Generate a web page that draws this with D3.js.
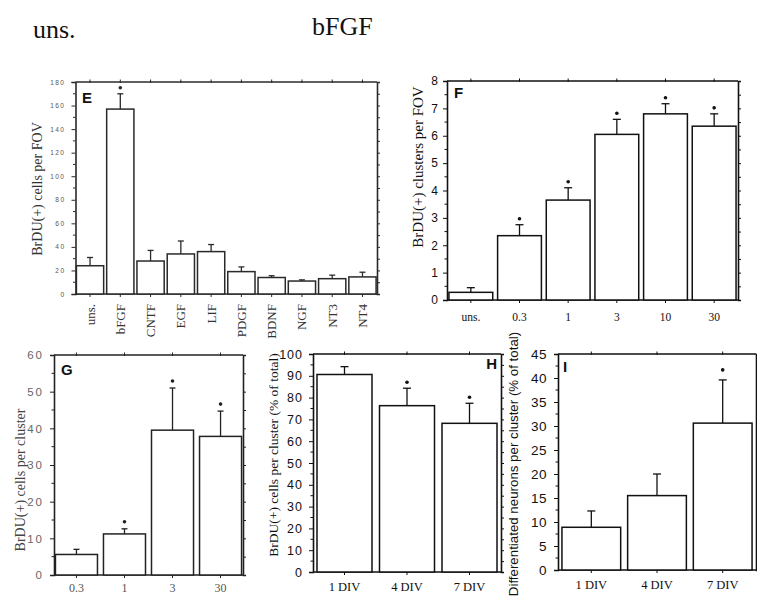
<!DOCTYPE html>
<html>
<head>
<meta charset="utf-8">
<script src="https://cdn.jsdelivr.net/npm/d3@7"></script>
<style>
  html, body { margin: 0; padding: 0; background: #fff; }
  svg { display: block; }
</style>
</head>
<body>
<svg id="fig"></svg>
<script>
// ── data ──
const eCats  = ['uns.', 'bFGF', 'CNTF', 'EGF', 'LIF', 'PDGF', 'BDNF', 'NGF', 'NT3', 'NT4'];
const eMeans = [24, 157, 28, 34, 36, 19, 14, 11, 13, 14.5];
const eErrs  = [31, 170, 37, 45, 42, 23, 15.5, 12, 16, 18.5];
const eSig   = [0, 1, 0, 0, 0, 0, 0, 0, 0, 0];
const eTicks = [0, 20, 40, 60, 80, 100, 120, 140, 160, 180];

const fCats  = ['uns.', '0.3', '1', '3', '10', '30'];
const fMeans = [0.28, 2.35, 3.65, 6.05, 6.8, 6.35];
const fErrs  = [0.45, 2.75, 4.1, 6.6, 7.17, 6.8];
const fSig   = [0, 1, 1, 1, 1, 1];
const fTicks = [0, 1, 2, 3, 4, 5, 6, 7, 8];

const gCats  = ['0.3', '1', '3', '30'];
const gMeans = [5.6, 11.2, 39.5, 37.8];
const gErrs  = [7, 12.6, 51, 44.7];
const gSig   = [0, 1, 1, 1];
const gTicks = [0, 10, 20, 30, 40, 50, 60];

const hCats  = ['1 DIV', '4 DIV', '7 DIV'];
const hMeans = [90.6, 76.3, 68.2];
const hErrs  = [94.2, 84.3, 77.4];
const hSig   = [0, 1, 1];
const hTicks = [0, 10, 20, 30, 40, 50, 60, 70, 80, 90, 100];

const iCats  = ['1 DIV', '4 DIV', '7 DIV'];
const iMeans = [8.9, 15.5, 30.6];
const iErrs  = [12.3, 20, 39.6];
const iSig   = [0, 0, 1];
const iTicks = [0, 5, 10, 15, 20, 25, 30, 35, 40, 45];

const W = 757, H = 596;
const SERIF = '"Liberation Serif", "DejaVu Serif", serif';
const SANS  = '"Liberation Sans", Arial, sans-serif';

const svg = d3.select('#fig').attr('width', W).attr('height', H);

// header labels of the micrographs above
svg.append('text').attr('x', 33).attr('y', 38)
    .attr('font-family', SERIF).attr('font-size', 26).attr('fill', '#111').text('uns.');
svg.append('text').attr('x', 312).attr('y', 35)
    .attr('font-family', SERIF).attr('font-size', 26).attr('fill', '#111').text('bFGF');

function panel(p) {
    const g = svg.append('g');
    const ink = p.ink || '#111';

    const x = d3.scaleBand().domain(p.cats)
        .range([p.left, p.right]).paddingInner(p.pi).paddingOuter(p.po);
    const y = d3.scaleLinear().domain([0, p.max]).range([p.bottom, p.top]);

    const step = p.ticks[1] - p.ticks[0];
    const minor = d3.range(step / 2, p.max, step);
    const mid = d => x(d) + x.bandwidth() / 2;

    // left axis
    const left = g.append('g').attr('transform', `translate(${p.left},0)`)
        .call(d3.axisLeft(y).tickValues(p.ticks).tickSize(4).tickPadding(p.labPad)
            .tickFormat(d3.format('d')));
    left.select('.domain').attr('stroke', ink).attr('stroke-width', 1.6);
    left.selectAll('.tick line').attr('stroke', ink);
    left.selectAll('.tick text')
        .attr('font-family', SANS).attr('font-size', p.tickSize)
        .attr('letter-spacing', p.tickSpace || 0)
        .attr('fill', p.tickInk || '#111');
    g.append('g').selectAll('line').data(minor).join('line')
        .attr('x1', p.left - 2.5).attr('x2', p.left)
        .attr('y1', d => y(d)).attr('y2', d => y(d))
        .attr('stroke', ink);

    // right axis, ticks only
    const right = g.append('g').attr('transform', `translate(${p.right},0)`)
        .call(d3.axisRight(y).tickValues(p.ticks.concat(minor)).tickSize(3).tickFormat(''));
    right.select('.domain').attr('stroke', ink).attr('stroke-width', 1.6);
    right.selectAll('.tick line').attr('stroke', ink);

    // top and bottom frame with small marks at the band centres
    g.append('line').attr('x1', p.left).attr('x2', p.right)
        .attr('y1', p.top).attr('y2', p.top).attr('stroke', ink).attr('stroke-width', 1.5);
    g.append('line').attr('x1', p.left).attr('x2', p.right)
        .attr('y1', p.bottom).attr('y2', p.bottom).attr('stroke', ink).attr('stroke-width', 1.6);
    g.append('g').selectAll('line').data(p.cats).join('line')
        .attr('x1', mid).attr('x2', mid)
        .attr('y1', p.top - 2.5).attr('y2', p.top + 1).attr('stroke', ink);
    g.append('g').selectAll('line').data(p.cats).join('line')
        .attr('x1', mid).attr('x2', mid)
        .attr('y1', p.bottom).attr('y2', p.bottom + 3).attr('stroke', ink);

    const rows = p.cats.map((c, i) => ({ c, m: p.means[i], e: p.errs[i], s: p.sig[i] }));

    // error bars
    const eb = g.append('g').selectAll('g').data(rows).join('g')
        .attr('stroke', ink).attr('stroke-width', 1.3);
    eb.append('line')
        .attr('x1', d => mid(d.c)).attr('x2', d => mid(d.c))
        .attr('y1', d => y(d.m)).attr('y2', d => y(d.e));
    eb.append('line')
        .attr('x1', d => mid(d.c) - p.cap).attr('x2', d => mid(d.c) + p.cap)
        .attr('y1', d => y(d.e)).attr('y2', d => y(d.e));

    // bars
    g.append('g').selectAll('rect').data(rows).join('rect')
        .attr('x', d => x(d.c)).attr('width', x.bandwidth())
        .attr('y', d => y(d.m)).attr('height', d => p.bottom - y(d.m))
        .attr('fill', '#fff').attr('stroke', ink).attr('stroke-width', 1.5);

    // significance marks
    g.append('g').selectAll('circle').data(rows.filter(d => d.s)).join('circle')
        .attr('cx', d => mid(d.c))
        .attr('cy', d => y(d.e) - p.starGap)
        .attr('r', 1.8).attr('fill', ink);

    // category labels
    const cl = g.append('g').selectAll('text').data(p.cats).join('text')
        .attr('font-family', SERIF).attr('font-size', p.catSize)
        .attr('fill', p.catInk || '#111').text(d => d);
    if (p.rotate) {
        cl.attr('text-anchor', 'end')
            .attr('transform', d => `translate(${mid(d) + 4.5},${p.bottom + 10}) rotate(-90)`);
    } else {
        cl.attr('text-anchor', 'middle')
            .attr('x', mid)
            .attr('y', p.bottom + p.catDy);
    }

    // y title
    g.append('text')
        .attr('transform', `translate(${p.titleX},${p.titleY}) rotate(-90)`)
        .attr('text-anchor', 'middle')
        .attr('font-family', p.titleFont || SERIF).attr('font-size', p.titleSize)
        .attr('fill', p.titleInk || '#111').text(p.title);

    // panel letter
    g.append('text').attr('x', p.letterX).attr('y', p.letterY)
        .attr('text-anchor', p.letterAnchor || 'start')
        .attr('font-family', SANS).attr('font-weight', 'bold')
        .attr('font-size', 15).attr('fill', '#111').text(p.letter);
}

panel({
    cats: eCats, means: eMeans, errs: eErrs, sig: eSig, ticks: eTicks, max: 180,
    left: 75.5, right: 377, top: 82, bottom: 294, pi: 0.1, po: 0.03,
    ink: '#2a2a2a', tickSize: 6.5, tickSpace: 1.5, tickInk: '#555', labPad: 6,
    cap: 3, starGap: 6, catSize: 13, catInk: '#333', rotate: true,
    title: 'BrDU(+) cells per FOV', titleX: 42, titleY: 189, titleSize: 14, titleInk: '#333',
    letter: 'E', letterX: 82, letterY: 103
});

panel({
    cats: fCats, means: fMeans, errs: fErrs, sig: fSig, ticks: fTicks, max: 8,
    left: 447, right: 738, top: 81, bottom: 300, pi: 0.1, po: 0.04,
    tickSize: 12, labPad: 5,
    cap: 4, starGap: 6, catSize: 11.5, catDy: 21,
    title: 'BrDU(+) clusters per FOV', titleX: 423, titleY: 167, titleSize: 15,
    letter: 'F', letterX: 454, letterY: 98
});

panel({
    cats: gCats, means: gMeans, errs: gErrs, sig: gSig, ticks: gTicks, max: 60,
    left: 54, right: 243, top: 355, bottom: 575, pi: 0.125, po: 0.03,
    ink: '#222', tickSize: 11.5, tickSpace: 2, tickInk: '#666', labPad: 6,
    cap: 3, starGap: 7, catSize: 12, catInk: '#555', catDy: 17,
    title: 'BrDU(+) cells per cluster', titleX: 25, titleY: 480, titleSize: 14, titleInk: '#444',
    letter: 'G', letterX: 61, letterY: 375
});

panel({
    cats: hCats, means: hMeans, errs: hErrs, sig: hSig, ticks: hTicks, max: 100,
    left: 313, right: 501, top: 354, bottom: 572, pi: 0.12, po: 0.064,
    tickSize: 12.5, tickSpace: 1, labPad: 6,
    cap: 4, starGap: 6, catSize: 12.5, catDy: 19,
    title: 'BrDU(+) cells per cluster (% of total)', titleX: 278, titleY: 455, titleSize: 13.5,
    letter: 'H', letterX: 497, letterY: 369, letterAnchor: 'end'
});

panel({
    cats: iCats, means: iMeans, errs: iErrs, sig: iSig, ticks: iTicks, max: 45,
    left: 558, right: 756, top: 354, bottom: 570, pi: 0.106, po: 0.06,
    tickSize: 13.5, tickSpace: 0.5, labPad: 7,
    cap: 4, starGap: 10, catSize: 12.5, catDy: 19,
    title: 'Differentiated neurons per cluster (% of total)', titleX: 518, titleY: 464,
    titleSize: 13.3, titleFont: SANS,
    letter: 'I', letterX: 563, letterY: 372
});
</script>
</body>
</html>
